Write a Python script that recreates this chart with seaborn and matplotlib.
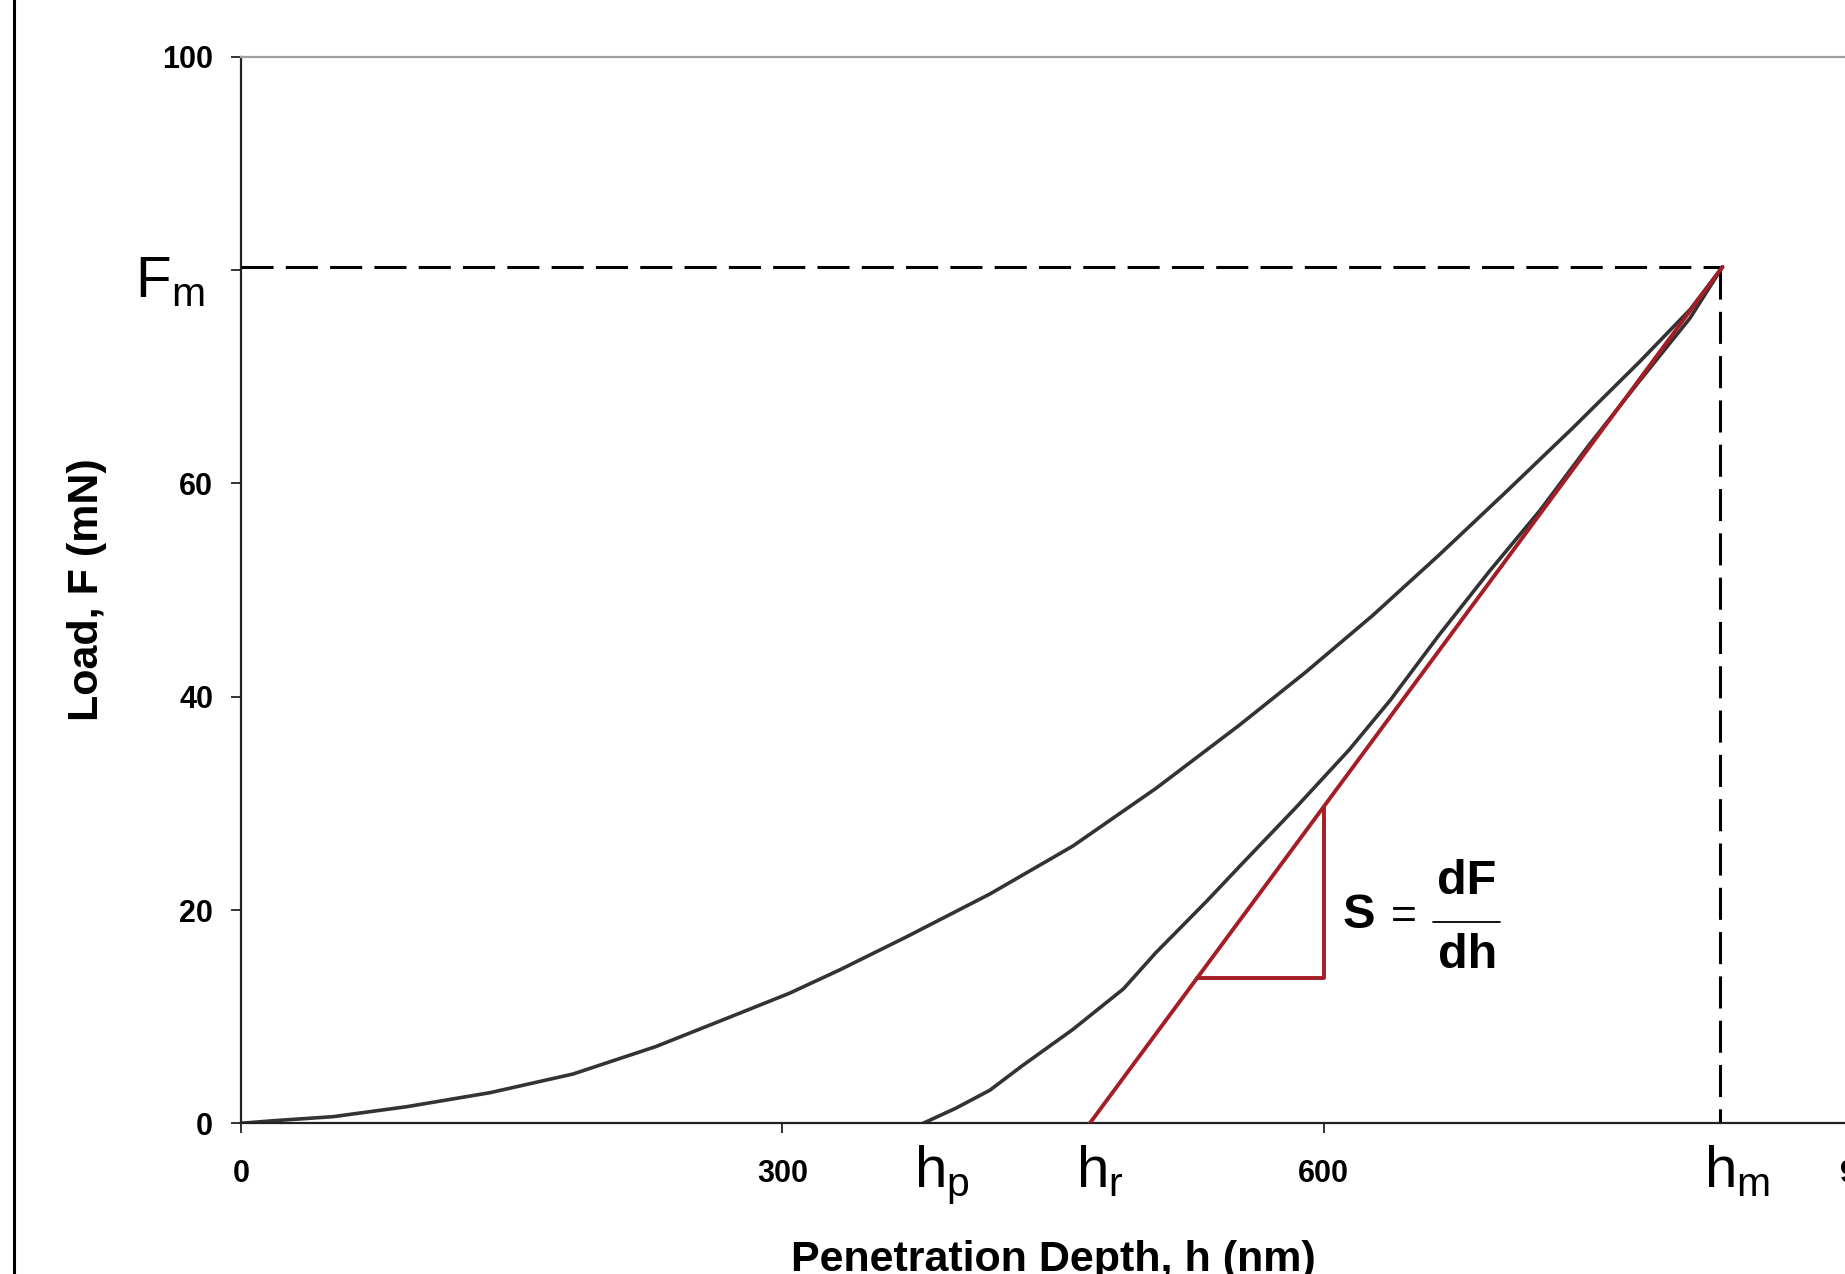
import numpy as np
import matplotlib
import matplotlib.pyplot as plt
import seaborn as sns
import pandas as pd
from matplotlib.lines import Line2D

# loading / unloading curve (h in nm, F in mN)
load_h = [0, 18, 51, 92, 138, 184, 230, 276, 304, 332, 369, 415, 461, 507, 553,
          590, 627, 664, 701, 738, 775, 803, 821]
load_F = [0, 0.24, 0.62, 1.56, 2.87, 4.62, 7.2, 10.3, 12.2, 14.4, 17.5, 21.5, 26.0,
          31.4, 37.3, 42.3, 47.6, 53.3, 59.2, 65.2, 71.4, 76.3, 80.3]

unload_h = [378, 396, 415, 433, 461, 489, 507, 535, 554, 584, 614, 637, 664, 692,
            720, 747, 775, 803, 821]
unload_F = [0, 1.4, 3.1, 5.4, 8.8, 12.6, 16.0, 20.8, 24.2, 29.5, 35.0, 39.7, 45.8,
            51.8, 57.5, 63.6, 69.6, 75.5, 80.3]

# tangent (stiffness) line and slope triangle
tangent_h = [470.4, 821]
tangent_F = [0, 80.3]
triangle_h = [530, 600, 600]
triangle_F = [13.65, 13.65, 29.7]

F_max = 80.3
h_max = 819.5
h_p = 373
h_r = 463

x_ticks = [0, 300, 600, 900]
y_ticks = [0, 20, 40, 60, 80, 100]
y_tick_labels = ["0", "20", "40", "60", "", "100"]

sns.set_theme(style="white")
plt.rcParams["font.family"] = ["Liberation Sans", "DejaVu Sans"]
plt.rcParams["mathtext.fontset"] = "custom"
plt.rcParams["mathtext.rm"] = "Liberation Sans"
plt.rcParams["text.color"] = "black"
plt.rcParams["axes.labelcolor"] = "black"
plt.rcParams["xtick.color"] = "black"
plt.rcParams["ytick.color"] = "black"

fig = plt.figure(figsize=(18.45, 12.74), dpi=100)
ax = fig.add_axes([241 / 1845, 0.1183, (1865 - 241) / 1845, 0.837])

curve_color = "#333333"
red = "#a51d26"

loading = pd.DataFrame({"h": load_h, "F": load_F})
unloading = pd.DataFrame({"h": unload_h, "F": unload_F})
sns.lineplot(data=loading, x="h", y="F", ax=ax, color=curve_color, lw=2.6,
             sort=False, estimator=None)
sns.lineplot(data=unloading, x="h", y="F", ax=ax, color=curve_color, lw=2.6,
             sort=False, estimator=None)

ax.plot(tangent_h, tangent_F, color=red, lw=2.8, zorder=3)
ax.plot(triangle_h, triangle_F, color=red, lw=2.8, zorder=3)

# dashed guides to the maximum
ax.plot([0, h_max], [F_max, F_max], color="black", lw=2.2, dashes=(10.5, 4))
ax.plot([h_max, h_max], [F_max, 0], color="black", lw=2.2, dashes=(10.5, 4))

ax.set_xlim(0, 900)
ax.set_ylim(0, 100)
ax.set_xticks(x_ticks)
ax.set_xticklabels([str(t) for t in x_ticks])
ax.set_yticks(y_ticks)
ax.set_yticklabels(y_tick_labels)
ax.tick_params(axis="both", which="major", direction="out", length=7, width=1.3,
               color="#222222", labelcolor="black", labelsize=22,
               bottom=True, left=True)
ax.tick_params(axis="y", pad=13)
ax.tick_params(axis="x", pad=19)
for lab in ax.get_xticklabels() + ax.get_yticklabels():
    lab.set_fontweight("bold")

for side in ["left", "bottom"]:
    ax.spines[side].set_color("#222222")
    ax.spines[side].set_linewidth(1.6)
ax.spines["top"].set_color("#a0a0a0")
ax.spines["top"].set_linewidth(1.6)
ax.spines["right"].set_visible(False)
ax.grid(False)

ax.set_xlabel("Penetration Depth, h (nm)", fontsize=31, fontweight="bold")
ax.xaxis.set_label_coords(0.5, -0.109)
ax.set_ylabel("Load, F (mN)", fontsize=31, fontweight="bold")
ax.yaxis.set_label_coords(-0.0825, 0.5)

sym = dict(fontsize=42, va="baseline", ha="left", clip_on=False, color="black")
ax.text(-59, 77.5, r"$\mathregular{F_m}$", **sym)
ax.text(h_p, -5.97, r"$\mathregular{h_p}$", **sym)
ax.text(h_r, -5.97, r"$\mathregular{h_r}$", **sym)
ax.text(811, -5.97, r"$\mathregular{h_m}$", **sym)

# S = dF/dh
ax.text(619.4, 19.5, "S", fontsize=35, fontweight="bold", ha="center", va="center")
ax.text(644.3, 19.3, "=", fontsize=32, ha="center", va="center")
ax.text(679, 22.7, "dF", fontsize=35, fontweight="bold", ha="center", va="center")
ax.text(680, 15.7, "dh", fontsize=35, fontweight="bold", ha="center", va="center")
ax.plot([660.4, 697.5], [18.9, 18.9], color="black", lw=1.3)

# frame line on the left edge of the picture
fig.add_artist(Line2D([14 / 1845, 14 / 1845], [0, 1], color="black", lw=2.2))

fig.savefig("out.png", dpi=100)
